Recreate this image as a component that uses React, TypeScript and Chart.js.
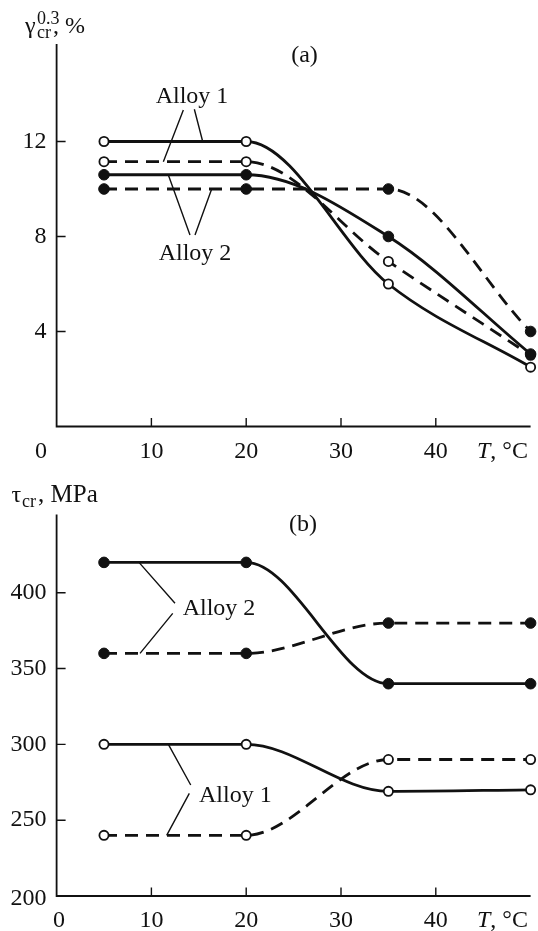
import React, { useEffect, useRef } from "react";
import { Chart, registerables } from "chart.js";

Chart.register(...registerables);

// ---------- data ----------
const temperatures = [5, 20, 35, 50];

// panel (a): gamma_cr^0.3, %
const gammaAlloy1Solid = [12, 12, 6.0, 2.5];
const gammaAlloy1Dashed = [11.15, 11.15, 6.95, 3.0];
const gammaAlloy2Solid = [10.6, 10.6, 8.0, 3.05];
const gammaAlloy2Dashed = [10, 10, 10, 4.0];

// panel (b): tau_cr, MPa
const tauAlloy2Solid = [420, 420, 340, 340];
const tauAlloy2Dashed = [360, 360, 380, 380];
const tauAlloy1Solid = [300, 300, 269, 270];
const tauAlloy1Dashed = [240, 240, 290, 290];

// ticks
const xTicks = [10, 20, 30, 40];
const xTickLabels = ["10", "20", "30", "40"];
const gammaTicks = [4, 8, 12];
const gammaTickLabels = ["4", "8", "12"];
const tauTicks = [250, 300, 350, 400];
const tauTickLabels = ["250", "300", "350", "400"];

// ---------- style ----------
const INK = "#111";
const SERIF = "'Liberation Serif', 'Times New Roman', serif";
const FONT = `24px ${SERIF}`;

type Leader = [number, number, number, number];
type Note = { text: string; x: number; y: number; leaders: Leader[] };

const notesA: Note[] = [
  { text: "Alloy 1", x: 14.28, y: 13.62, leaders: [[13.37, 13.33, 11.26, 11.15], [14.53, 13.36, 15.41, 12.0]] },
  { text: "Alloy 2", x: 14.6, y: 7.01, leaders: [[14.07, 8.06, 11.78, 10.6], [14.6, 8.06, 16.36, 10.0]] },
];
const notesB: Note[] = [
  { text: "Alloy 2", x: 17.13, y: 385.3, leaders: [[8.69, 420, 12.49, 393], [12.25, 386.4, 8.8, 360]] },
  { text: "Alloy 1", x: 18.85, y: 262.2, leaders: [[11.79, 300, 14.15, 273.2], [14.0, 267.7, 11.61, 240]] },
];

function series(values: number[], filled: boolean, dashed: boolean) {
  return {
    data: temperatures.map((t, i) => ({ x: t, y: values[i] })),
    borderColor: INK,
    borderWidth: 2.8,
    borderDash: dashed ? [13, 8] : [],
    cubicInterpolationMode: "monotone" as const,
    pointRadius: filled ? 5.3 : 4.6,
    pointBorderWidth: filled ? 1 : 1.8,
    pointBackgroundColor: filled ? INK : "#fff",
    pointBorderColor: INK,
    fill: false,
    clip: false as any,
  };
}

type PanelSpec = {
  id: string;
  yTicks: number[];
  yTickLabels: string[];
  zeroX: number;
  minLabel?: string;
  title: string;
  titleX: number;
  titleY: number;
  notes: Note[];
  drawAxisTitle: (ctx: CanvasRenderingContext2D) => void;
};

function makeOverlay(spec: PanelSpec) {
  return {
    id: "overlay" + spec.id,
    beforeDatasetsDraw(chart: any) {
      const { ctx, chartArea } = chart;
      const xs = chart.scales.x;
      const ys = chart.scales.y;
      ctx.save();
      ctx.strokeStyle = INK;
      ctx.lineWidth = 1.8;
      ctx.setLineDash([]);
      ctx.beginPath();
      ctx.moveTo(chartArea.left, chartArea.top - 2.5);
      ctx.lineTo(chartArea.left, chartArea.bottom);
      ctx.lineTo(chartArea.right, chartArea.bottom);
      ctx.stroke();
      ctx.lineWidth = 1.4;
      ctx.beginPath();
      for (const v of xTicks) {
        const px = xs.getPixelForValue(v);
        ctx.moveTo(px, chartArea.bottom);
        ctx.lineTo(px, chartArea.bottom - 8.5);
      }
      for (const v of spec.yTicks) {
        const py = ys.getPixelForValue(v);
        ctx.moveTo(chartArea.left, py);
        ctx.lineTo(chartArea.left + 9, py);
      }
      ctx.stroke();

      // leader lines
      ctx.lineWidth = 1.4;
      ctx.beginPath();
      for (const n of spec.notes) {
        for (const [x1, y1, x2, y2] of n.leaders) {
          ctx.moveTo(xs.getPixelForValue(x1), ys.getPixelForValue(y1));
          ctx.lineTo(xs.getPixelForValue(x2), ys.getPixelForValue(y2));
        }
      }
      ctx.stroke();
      ctx.restore();
    },
    afterDatasetsDraw(chart: any) {
      const { ctx, chartArea } = chart;
      const xs = chart.scales.x;
      const ys = chart.scales.y;
      ctx.save();
      ctx.fillStyle = INK;
      ctx.font = FONT;
      const labelY = chartArea.bottom + 31;
      ctx.textAlign = "center";
      ctx.textBaseline = "alphabetic";
      xTicks.forEach((v, i) => {
        ctx.fillText(xTickLabels[i], xs.getPixelForValue(v), labelY);
      });
      ctx.fillText("0", spec.zeroX, labelY);
      // T, °C
      ctx.textAlign = "left";
      ctx.font = `italic 24px ${SERIF}`;
      ctx.fillText("T", 477, labelY);
      const tw = ctx.measureText("T").width;
      ctx.font = FONT;
      ctx.fillText(", \u00B0C", 477 + tw, labelY);

      // y tick labels
      ctx.textAlign = "right";
      ctx.textBaseline = "middle";
      spec.yTicks.forEach((v, i) => {
        ctx.fillText(spec.yTickLabels[i], 46.5, ys.getPixelForValue(v));
      });
      if (spec.minLabel) {
        ctx.fillText(spec.minLabel, 46.5, chartArea.bottom + 2.5);
      }

      // panel title
      ctx.textAlign = "center";
      ctx.textBaseline = "alphabetic";
      ctx.fillText(spec.title, spec.titleX, spec.titleY);

      // notes
      for (const n of spec.notes) {
        ctx.fillText(n.text, xs.getPixelForValue(n.x), ys.getPixelForValue(n.y));
      }

      spec.drawAxisTitle(ctx);
      ctx.restore();
    },
  };
}

function drawGammaTitle(ctx: CanvasRenderingContext2D) {
  ctx.textAlign = "left";
  ctx.textBaseline = "alphabetic";
  ctx.font = FONT;
  ctx.fillText("\u03B3", 25, 33);
  ctx.font = `18px ${SERIF}`;
  ctx.fillText("0.3", 37, 24);
  ctx.fillText("cr", 37, 37.5);
  ctx.font = FONT;
  ctx.fillText(", %", 53, 33);
}

function drawTauTitle(ctx: CanvasRenderingContext2D) {
  ctx.textAlign = "left";
  ctx.textBaseline = "alphabetic";
  ctx.font = FONT;
  ctx.fillText("\u03C4", 11.5, 37);
  ctx.font = `18px ${SERIF}`;
  ctx.fillText("cr", 22, 42);
  ctx.font = `25px ${SERIF}`;
  ctx.fillText(", MPa", 38, 37);
}

function baseOptions(padding: any, yMin: number, yMax: number) {
  return {
    animation: false as const,
    responsive: false,
    maintainAspectRatio: false,
    devicePixelRatio: 1,
    events: [] as any[],
    layout: { padding },
    scales: {
      x: { type: "linear" as const, min: 0, max: 50, display: false },
      y: { type: "linear" as const, min: yMin, max: yMax, display: false },
    },
    plugins: { legend: { display: false }, tooltip: { enabled: false } },
  };
}

export default function App() {
  const refA = useRef<HTMLCanvasElement | null>(null);
  const refB = useRef<HTMLCanvasElement | null>(null);

  useEffect(() => {
    if (!refA.current || !refB.current) return;
    const specA: PanelSpec = {
      id: "A",
      yTicks: gammaTicks,
      yTickLabels: gammaTickLabels,
      zeroX: 41,
      title: "(a)",
      titleX: 304.5,
      titleY: 62,
      notes: notesA,
      drawAxisTitle: drawGammaTitle,
    };
    const specB: PanelSpec = {
      id: "B",
      yTicks: tauTicks,
      yTickLabels: tauTickLabels,
      zeroX: 59,
      minLabel: "200",
      title: "(b)",
      titleX: 303,
      titleY: 66,
      notes: notesB,
      drawAxisTitle: drawTauTitle,
    };
    const chartA = new Chart(refA.current, {
      type: "line",
      data: {
        datasets: [
          series(gammaAlloy2Solid, true, false),
          series(gammaAlloy2Dashed, true, true),
          series(gammaAlloy1Solid, false, false),
          series(gammaAlloy1Dashed, false, true),
        ] as any,
      },
      options: baseOptions({ left: 56.6, right: 7.4, top: 46.5, bottom: 38.5 }, 0, 16) as any,
      plugins: [makeOverlay(specA)],
    });
    const chartB = new Chart(refB.current, {
      type: "line",
      data: {
        datasets: [
          series(tauAlloy2Solid, true, false),
          series(tauAlloy2Dashed, true, true),
          series(tauAlloy1Solid, false, false),
          series(tauAlloy1Dashed, false, true),
        ] as any,
      },
      options: baseOptions({ left: 56.6, right: 7.4, top: 51.9, bottom: 35 }, 200, 450) as any,
      plugins: [makeOverlay(specB)],
    });
    return () => {
      chartA.destroy();
      chartB.destroy();
    };
  }, []);

  return (
    <div style={{ position: "absolute", left: 0, top: 0, width: 538, height: 931, background: "#fff" }}>
      <canvas ref={refA} width={538} height={465} style={{ display: "block", width: 538, height: 465 }} />
      <canvas ref={refB} width={538} height={466} style={{ display: "block", width: 538, height: 466 }} />
    </div>
  );
}
